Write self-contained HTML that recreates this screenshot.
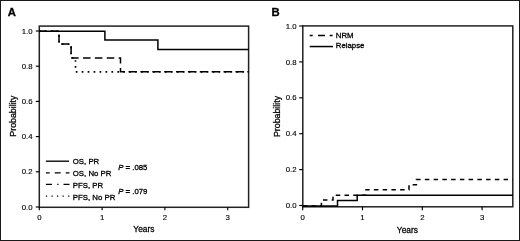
<!DOCTYPE html>
<html><head><meta charset="utf-8"><style>
html,body{margin:0;padding:0;background:#fff;width:520px;height:241px;overflow:hidden}
svg text{font-family:"Liberation Sans", sans-serif}
svg{will-change:transform;-webkit-font-smoothing:antialiased}
</style></head><body>
<svg width="520" height="241" viewBox="0 0 520 241" style="display:block"><rect x="0.5" y="0.5" width="519" height="240" fill="none" stroke="#1a1a1a" stroke-width="1"/>
<rect x="39.3" y="26.1" width="209.3" height="181.20000000000002" fill="none" stroke="#222" stroke-width="1.5"/>
<line x1="35.8" y1="207.0" x2="39.3" y2="207.0" stroke="#000" stroke-width="1.15" stroke-linecap="butt"/>
<text x="32.6" y="209.6" font-size="7.8" text-anchor="end" font-weight="normal" font-style="normal" fill="#000" stroke="#000" stroke-width="0.14">0.0</text>
<line x1="35.8" y1="171.8" x2="39.3" y2="171.8" stroke="#000" stroke-width="1.15" stroke-linecap="butt"/>
<text x="32.6" y="174.4" font-size="7.8" text-anchor="end" font-weight="normal" font-style="normal" fill="#000" stroke="#000" stroke-width="0.14">0.2</text>
<line x1="35.8" y1="136.6" x2="39.3" y2="136.6" stroke="#000" stroke-width="1.15" stroke-linecap="butt"/>
<text x="32.6" y="139.2" font-size="7.8" text-anchor="end" font-weight="normal" font-style="normal" fill="#000" stroke="#000" stroke-width="0.14">0.4</text>
<line x1="35.8" y1="101.4" x2="39.3" y2="101.4" stroke="#000" stroke-width="1.15" stroke-linecap="butt"/>
<text x="32.6" y="104.0" font-size="7.8" text-anchor="end" font-weight="normal" font-style="normal" fill="#000" stroke="#000" stroke-width="0.14">0.6</text>
<line x1="35.8" y1="66.19999999999999" x2="39.3" y2="66.19999999999999" stroke="#000" stroke-width="1.15" stroke-linecap="butt"/>
<text x="32.6" y="68.79999999999998" font-size="7.8" text-anchor="end" font-weight="normal" font-style="normal" fill="#000" stroke="#000" stroke-width="0.14">0.8</text>
<line x1="35.8" y1="31.0" x2="39.3" y2="31.0" stroke="#000" stroke-width="1.15" stroke-linecap="butt"/>
<text x="32.6" y="33.6" font-size="7.8" text-anchor="end" font-weight="normal" font-style="normal" fill="#000" stroke="#000" stroke-width="0.14">1.0</text>
<line x1="39.3" y1="207.3" x2="39.3" y2="210.3" stroke="#000" stroke-width="1.15" stroke-linecap="butt"/>
<text x="39.3" y="220.4" font-size="7.8" text-anchor="middle" font-weight="normal" font-style="normal" fill="#000" stroke="#000" stroke-width="0.14">0</text>
<line x1="102.1" y1="207.3" x2="102.1" y2="210.3" stroke="#000" stroke-width="1.15" stroke-linecap="butt"/>
<text x="102.1" y="220.4" font-size="7.8" text-anchor="middle" font-weight="normal" font-style="normal" fill="#000" stroke="#000" stroke-width="0.14">1</text>
<line x1="164.89999999999998" y1="207.3" x2="164.89999999999998" y2="210.3" stroke="#000" stroke-width="1.15" stroke-linecap="butt"/>
<text x="164.89999999999998" y="220.4" font-size="7.8" text-anchor="middle" font-weight="normal" font-style="normal" fill="#000" stroke="#000" stroke-width="0.14">2</text>
<line x1="227.7" y1="207.3" x2="227.7" y2="210.3" stroke="#000" stroke-width="1.15" stroke-linecap="butt"/>
<text x="227.7" y="220.4" font-size="7.8" text-anchor="middle" font-weight="normal" font-style="normal" fill="#000" stroke="#000" stroke-width="0.14">3</text>
<text x="0" y="0" font-size="9.1" text-anchor="middle" fill="#000" stroke="#000" stroke-width="0.3" transform="translate(143.9,231.9) scale(0.92,1)">Years</text>
<text x="0" y="0" font-size="8.8" text-anchor="middle" fill="#000" stroke="#000" stroke-width="0.3" transform="translate(16.1,116.1) rotate(-90)">Probability</text>
<text x="7.7" y="15.8" font-size="11.3" text-anchor="start" font-weight="bold" font-style="normal" fill="#000" stroke="#000" stroke-width="0.3">A</text>
<path d="M39.3,31.2 L104.9,31.2 L104.9,40.0 L157.9,40.0 L157.9,49.4 L248.6,49.4" fill="none" stroke="#000" stroke-width="1.5" stroke-linecap="butt" stroke-linejoin="miter"/>
<path d="M39.3,31.2 L59,31.2 L59,44.1 L71.1,44.1 L71.1,57.9 L75.5,57.9 L75.5,71.8 L248.6,71.8" fill="none" stroke="#000" stroke-width="1.7" stroke-linecap="butt" stroke-linejoin="miter" stroke-dasharray="1.7 4.25" stroke-dashoffset="0.3"/>
<path d="M39.3,31.2 L59,31.2 L59,44.1 L71.1,44.1 L71.1,57.9 L120.5,57.9 L120.5,71.8 L248.6,71.8" fill="none" stroke="#000" stroke-width="1.5" stroke-linecap="butt" stroke-linejoin="miter" stroke-dasharray="7.5 4.38" stroke-dashoffset="0.86"/>
<line x1="45.9" y1="161.2" x2="69.0" y2="161.2" stroke="#000" stroke-width="1.35" stroke-linecap="butt"/>
<line x1="45.9" y1="172.8" x2="69.5" y2="172.8" stroke="#000" stroke-width="1.3" stroke-linecap="butt" stroke-dasharray="3.8 5 6 5 6" stroke-dashoffset="0"/>
<line x1="45.9" y1="184.4" x2="69.5" y2="184.4" stroke="#000" stroke-width="1.3" stroke-linecap="butt" stroke-dasharray="6 5.3 1.3 5 6.1" stroke-dashoffset="0"/>
<line x1="45.9" y1="196.1" x2="69.6" y2="196.1" stroke="#000" stroke-width="1.25" stroke-linecap="butt" stroke-dasharray="1.25 4.3" stroke-dashoffset="0"/>
<text x="72.8" y="163.8" font-size="7.8" text-anchor="start" font-weight="normal" font-style="normal" fill="#000" stroke="#000" stroke-width="0.3">OS, PR</text>
<text x="72.8" y="175.5" font-size="7.8" text-anchor="start" font-weight="normal" font-style="normal" fill="#000" stroke="#000" stroke-width="0.3">OS, No PR</text>
<text x="72.8" y="187.7" font-size="7.8" text-anchor="start" font-weight="normal" font-style="normal" fill="#000" stroke="#000" stroke-width="0.3">PFS, PR</text>
<text x="72.8" y="199.5" font-size="7.8" text-anchor="start" font-weight="normal" font-style="normal" fill="#000" stroke="#000" stroke-width="0.3">PFS, No PR</text>
<text x="118.2" y="169.6" font-size="7.8" text-anchor="start" font-weight="normal" font-style="normal" fill="#000" stroke="#000" stroke-width="0.3"><tspan font-style="italic">P</tspan> = .085</text>
<text x="118.2" y="193.7" font-size="7.8" text-anchor="start" font-weight="normal" font-style="normal" fill="#000" stroke="#000" stroke-width="0.3"><tspan font-style="italic">P</tspan> = .079</text>
<rect x="302.8" y="25.9" width="209.99999999999994" height="180.9" fill="none" stroke="#222" stroke-width="1.5"/>
<line x1="299.2" y1="205.5" x2="302.8" y2="205.5" stroke="#000" stroke-width="1.15" stroke-linecap="butt"/>
<text x="296.5" y="208.1" font-size="7.8" text-anchor="end" font-weight="normal" font-style="normal" fill="#000" stroke="#000" stroke-width="0.14">0.0</text>
<line x1="299.2" y1="169.6" x2="302.8" y2="169.6" stroke="#000" stroke-width="1.15" stroke-linecap="butt"/>
<text x="296.5" y="172.2" font-size="7.8" text-anchor="end" font-weight="normal" font-style="normal" fill="#000" stroke="#000" stroke-width="0.14">0.2</text>
<line x1="299.2" y1="133.7" x2="302.8" y2="133.7" stroke="#000" stroke-width="1.15" stroke-linecap="butt"/>
<text x="296.5" y="136.29999999999998" font-size="7.8" text-anchor="end" font-weight="normal" font-style="normal" fill="#000" stroke="#000" stroke-width="0.14">0.4</text>
<line x1="299.2" y1="97.8" x2="302.8" y2="97.8" stroke="#000" stroke-width="1.15" stroke-linecap="butt"/>
<text x="296.5" y="100.39999999999999" font-size="7.8" text-anchor="end" font-weight="normal" font-style="normal" fill="#000" stroke="#000" stroke-width="0.14">0.6</text>
<line x1="299.2" y1="61.900000000000006" x2="302.8" y2="61.900000000000006" stroke="#000" stroke-width="1.15" stroke-linecap="butt"/>
<text x="296.5" y="64.5" font-size="7.8" text-anchor="end" font-weight="normal" font-style="normal" fill="#000" stroke="#000" stroke-width="0.14">0.8</text>
<line x1="299.2" y1="26.0" x2="302.8" y2="26.0" stroke="#000" stroke-width="1.15" stroke-linecap="butt"/>
<text x="296.5" y="28.6" font-size="7.8" text-anchor="end" font-weight="normal" font-style="normal" fill="#000" stroke="#000" stroke-width="0.14">1.0</text>
<line x1="302.7" y1="206.8" x2="302.7" y2="210.3" stroke="#000" stroke-width="1.15" stroke-linecap="butt"/>
<text x="302.7" y="220.4" font-size="7.8" text-anchor="middle" font-weight="normal" font-style="normal" fill="#000" stroke="#000" stroke-width="0.14">0</text>
<line x1="362.5" y1="206.8" x2="362.5" y2="210.3" stroke="#000" stroke-width="1.15" stroke-linecap="butt"/>
<text x="362.5" y="220.4" font-size="7.8" text-anchor="middle" font-weight="normal" font-style="normal" fill="#000" stroke="#000" stroke-width="0.14">1</text>
<line x1="422.29999999999995" y1="206.8" x2="422.29999999999995" y2="210.3" stroke="#000" stroke-width="1.15" stroke-linecap="butt"/>
<text x="422.29999999999995" y="220.4" font-size="7.8" text-anchor="middle" font-weight="normal" font-style="normal" fill="#000" stroke="#000" stroke-width="0.14">2</text>
<line x1="482.09999999999997" y1="206.8" x2="482.09999999999997" y2="210.3" stroke="#000" stroke-width="1.15" stroke-linecap="butt"/>
<text x="482.09999999999997" y="220.4" font-size="7.8" text-anchor="middle" font-weight="normal" font-style="normal" fill="#000" stroke="#000" stroke-width="0.14">3</text>
<text x="0" y="0" font-size="9.1" text-anchor="middle" fill="#000" stroke="#000" stroke-width="0.3" transform="translate(407.4,233.2) scale(0.92,1)">Years</text>
<text x="0" y="0" font-size="8.8" text-anchor="middle" fill="#000" stroke="#000" stroke-width="0.3" transform="translate(280.0,116.5) rotate(-90)">Probability</text>
<text x="271.6" y="15.8" font-size="11.3" text-anchor="start" font-weight="bold" font-style="normal" fill="#000" stroke="#000" stroke-width="0.3">B</text>
<path d="M302.8,206.0 L337.5,206.0 L337.5,200.6 L357.2,200.6 L357.2,195.3 L512.8,195.3" fill="none" stroke="#000" stroke-width="1.5" stroke-linecap="butt" stroke-linejoin="miter"/>
<path d="M302.8,206.0 L321.4,206.0 L321.4,200.0 L333.0,200.0 L333.0,195.3 L366,195.3 L366,189.7 L409,189.7 L409,184.7 L416.4,184.7 L416.4,179.4 L512.8,179.4" fill="none" stroke="#000" stroke-width="1.5" stroke-linecap="butt" stroke-linejoin="miter" stroke-dasharray="4.5 4.25" stroke-dashoffset="0.1"/>
<line x1="309.7" y1="35.6" x2="332.6" y2="35.6" stroke="#000" stroke-width="1.5" stroke-linecap="butt" stroke-dasharray="3 5.3 7 4.7 3" stroke-dashoffset="0"/>
<line x1="309.7" y1="46.55" x2="333.0" y2="46.55" stroke="#000" stroke-width="1.5" stroke-linecap="butt"/>
<text x="335.8" y="38.0" font-size="7.8" text-anchor="start" font-weight="normal" font-style="normal" fill="#000" stroke="#000" stroke-width="0.3">NRM</text>
<text x="335.8" y="48.4" font-size="7.8" text-anchor="start" font-weight="normal" font-style="normal" fill="#000" stroke="#000" stroke-width="0.3">Relapse</text></svg>
</body></html>
